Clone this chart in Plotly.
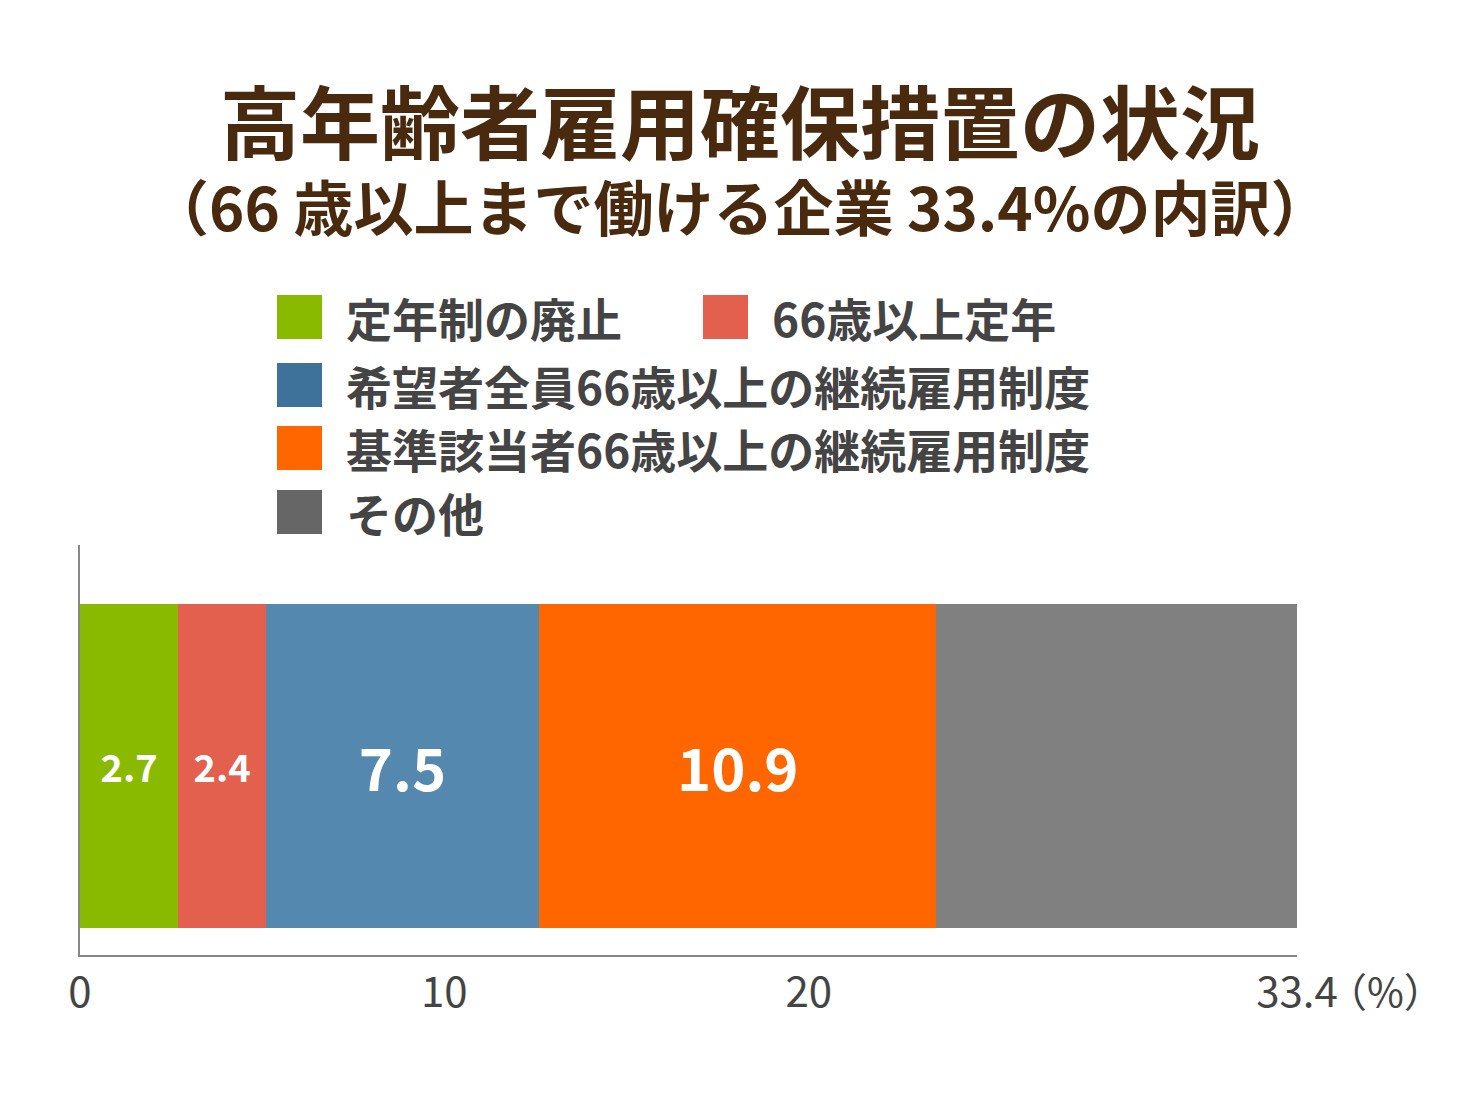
import plotly.graph_objects as go

categories = ["定年制の廃止", "66歳以上定年", "希望者全員66歳以上の継続雇用制度",
              "基準該当者66歳以上の継続雇用制度", "その他"]
values = [2.7, 2.4, 7.5, 10.9, 9.9]
bar_labels = ["2.7", "2.4", "7.5", "10.9", ""]
bar_colors = ["#8aba00", "#e4604e", "#5588ae", "#ff6600", "#808080"]
legend_colors = ["#8aba00", "#e4604e", "#3f729b", "#ff6600", "#666666"]
label_sizes = [38, 38, 58, 58, 38]
tick_vals = [0, 10, 20, 33.4]
tick_text = ["0", "10", "20", "33.4"]

W, H = 1481, 1118
L, R, T, B = 80, 1297, 545, 955
OFF = 8  # page body margin
FONT = "Noto Sans CJK JP"


def px(x):
    return (x - L) / (R - L)


def py(y):
    return (B - y) / (B - T)


fig = go.Figure()
for cat, v, lab, c, s in zip(categories, values, bar_labels, bar_colors, label_sizes):
    fig.add_trace(go.Bar(
        x=[v], y=[0], orientation="h", name=cat, width=0.79,
        marker=dict(color=c, line=dict(width=0)),
        text=[lab], textposition="inside", insidetextanchor="middle",
        textfont=dict(family=FONT, size=s, color="white", weight="bold"),
        textangle=0,
    ))

# legend drawn by hand (irregular layout)
legend_pos = [(277, 317), (703, 317), (277, 385), (277, 448), (277, 512)]
for cat, c, (x0, yc) in zip(categories, legend_colors, legend_pos):
    fig.add_shape(type="rect", xref="paper", yref="paper",
                  x0=px(x0), x1=px(x0 + 45), y0=py(yc + 22), y1=py(yc - 22),
                  fillcolor=c, line=dict(width=0))
    fig.add_annotation(xref="paper", yref="paper", x=px(x0 + 67), y=py(yc),
                       text=cat, showarrow=False, xanchor="left", yanchor="middle",
                       font=dict(family=FONT, size=46, color="#444444", weight="bold"))

fig.add_annotation(xref="paper", yref="paper", x=px(740), y=py(118),
                   text="<b>高年齢者雇用確保措置の状況</b>", showarrow=False,
                   xanchor="center", yanchor="middle",
                   font=dict(family=FONT, size=80, color="#4a2a0e"))
fig.add_annotation(xref="paper", yref="paper", x=px(740), y=py(205),
                   text="<b>（66 歳以上まで働ける企業 33.4%の内訳）</b>", showarrow=False,
                   xanchor="center", yanchor="middle",
                   font=dict(family=FONT, size=60, color="#4a2a0e"))
fig.add_annotation(xref="x", yref="paper", x=33.4, y=py(990),
                   text="（%）", showarrow=False, xanchor="left", yanchor="middle",
                   xshift=28,
                   font=dict(family=FONT, size=40, color="#444444"))

fig.update_layout(
    width=W, height=H, barmode="stack", showlegend=False,
    margin=dict(l=L - OFF, r=W - (R - OFF), t=T - OFF, b=H - (B - OFF), pad=0),
    paper_bgcolor="white", plot_bgcolor="white",
    xaxis=dict(range=[0, 33.4], tickvals=tick_vals, ticktext=tick_text,
               showgrid=False, zeroline=False, showline=True, linecolor="#888888",
               linewidth=1.5, ticks="", ticklabelstandoff=0,
               tickfont=dict(family=FONT, size=42, color="#444444")),
    yaxis=dict(range=[-0.461, 0.539], showticklabels=False, showgrid=False,
               zeroline=False, showline=True, linecolor="#888888", linewidth=1.5),
)

fig.write_html("out.html")
